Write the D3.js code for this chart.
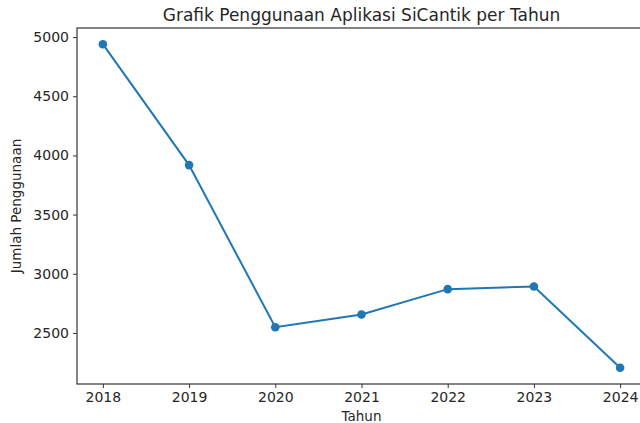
<!DOCTYPE html>
<html>
<head>
<meta charset="utf-8">
<script src="https://cdn.jsdelivr.net/npm/d3@7"></script>
<style>
  html, body { margin: 0; padding: 0; background: #fff; }
  svg { display: block; font-family: "DejaVu Sans", sans-serif; }
</style>
</head>
<body>
<svg id="chart" width="640" height="423"></svg>
<script>
const years = [2018, 2019, 2020, 2021, 2022, 2023, 2024];
const usage = [4940, 3918, 2548, 2655, 2870, 2892, 2205];
const yTicks = [2500, 3000, 3500, 4000, 4500, 5000];
const title = "Grafik Penggunaan Aplikasi SiCantik per Tahun";
const xLabel = "Tahun";
const yLabel = "Jumlah Penggunaan";

const W = 640, H = 423;
const m = { left: 77, right: 646, top: 28, bottom: 384 };
const svg = d3.select("#chart");

const xMin = d3.min(years), xMax = d3.max(years);
const xPad = (xMax - xMin) * 0.05;
const x = d3.scaleLinear().domain([xMin - xPad, xMax + xPad]).range([m.left, m.right]);
const yMin = d3.min(usage), yMax = d3.max(usage);
const yPad = (yMax - yMin) * 0.05;
const y = d3.scaleLinear().domain([yMin - yPad, yMax + yPad]).range([m.bottom, m.top]);

const textColor = "#262626";

// axes
const xAxis = svg.append("g")
  .attr("transform", `translate(0,${m.bottom})`)
  .call(d3.axisBottom(x).tickValues(years).tickFormat(d3.format("d")).tickSize(4).tickPadding(4));
const yAxis = svg.append("g")
  .attr("transform", `translate(${m.left},0)`)
  .call(d3.axisLeft(y).tickValues(yTicks).tickFormat(d3.format("d")).tickSize(4).tickPadding(4));
[xAxis, yAxis].forEach(g => {
  g.select(".domain").remove();
  g.selectAll(".tick line").attr("stroke", "#333").attr("stroke-width", 1);
  g.selectAll(".tick text").attr("fill", textColor).style("font-size", "14px")
    .style("font-family", "DejaVu Sans, sans-serif");
});

// spines
svg.append("rect")
  .attr("x", m.left).attr("y", m.top)
  .attr("width", m.right - m.left).attr("height", m.bottom - m.top)
  .attr("fill", "none").attr("stroke", "#333").attr("stroke-width", 1.2);

// line
const line = d3.line().x((d, i) => x(years[i])).y(d => y(d));
svg.append("path")
  .datum(usage)
  .attr("d", line)
  .attr("fill", "none")
  .attr("stroke", "#1f77b4")
  .attr("stroke-width", 2);

svg.append("g").selectAll("circle")
  .data(usage)
  .join("circle")
  .attr("cx", (d, i) => x(years[i]))
  .attr("cy", d => y(d))
  .attr("r", 4.3)
  .attr("fill", "#1f77b4");

// title & labels
svg.append("text")
  .attr("x", (m.left + m.right) / 2).attr("y", 21)
  .attr("text-anchor", "middle")
  .attr("fill", textColor)
  .style("font-size", "17px")
  .text(title);

svg.append("text")
  .attr("x", (m.left + m.right) / 2).attr("y", 421)
  .attr("text-anchor", "middle")
  .attr("fill", textColor)
  .style("font-size", "13.5px")
  .text(xLabel);

svg.append("text")
  .attr("transform", `translate(21,${(m.top + m.bottom) / 2}) rotate(-90)`)
  .attr("text-anchor", "middle")
  .attr("fill", textColor)
  .style("font-size", "13.5px")
  .text(yLabel);
</script>
</body>
</html>
